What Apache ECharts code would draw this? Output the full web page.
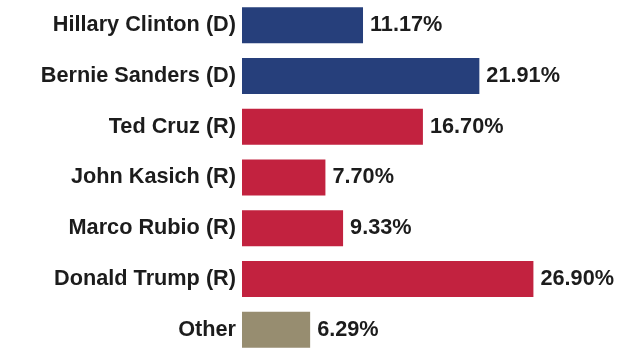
<!DOCTYPE html>
<html>
<head>
<meta charset="utf-8">
<script src="https://cdn.jsdelivr.net/npm/echarts@6/dist/echarts.min.js"></script>
<style>html,body{margin:0;padding:0;background:#fff;}#c{width:640px;height:362px;}</style>
</head>
<body>
<div id="c"></div>
<script>
var categories = ["Hillary Clinton (D)", "Bernie Sanders (D)", "Ted Cruz (R)", "John Kasich (R)", "Marco Rubio (R)", "Donald Trump (R)", "Other"];
var values = [11.17, 21.91, 16.70, 7.70, 9.33, 26.90, 6.29];
var parties = ["D", "D", "R", "R", "R", "R", "O"];
var partyColors = {D: "#263f7b", R: "#c2223f", O: "#978d70"};

var chart = echarts.init(document.getElementById('c'));
chart.setOption({
  animation: false,
  grid: {left: 242, top: 0, height: 355, right: 73},
  xAxis: {type: 'value', min: 0, max: 30, show: false},
  yAxis: {
    type: 'category', data: categories, inverse: true,
    axisLine: {show: false}, axisTick: {show: false},
    axisLabel: {margin: 6, color: '#1c1c1c', fontFamily: 'Liberation Sans, Arial, sans-serif', fontWeight: 'bold', fontSize: 21.7}
  },
  series: [{
    type: 'bar',
    barWidth: 36,
    data: values.map(function(v, i){ return {value: v, itemStyle: {color: partyColors[parties[i]]}}; }),
    label: {
      show: true, position: 'right', distance: 7,
      color: '#1c1c1c', fontFamily: 'Liberation Sans, Arial, sans-serif', fontWeight: 'bold', fontSize: 21.7,
      formatter: function(p){ return p.value.toFixed(2) + '%'; }
    }
  }]
});
</script>
</body>
</html>
